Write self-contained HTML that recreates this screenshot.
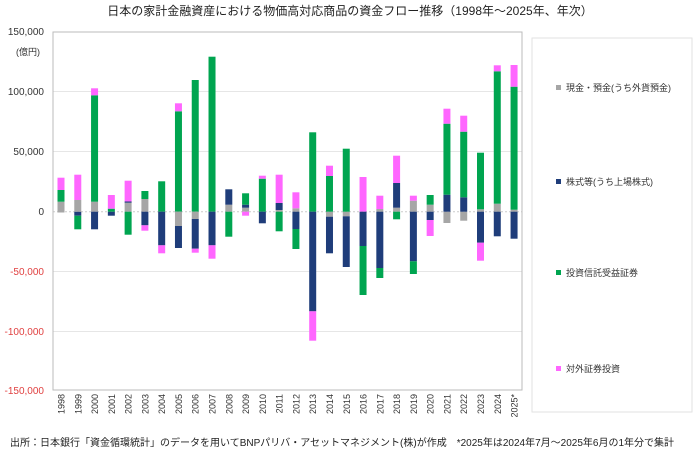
<!DOCTYPE html>
<html><head><meta charset="utf-8"><style>
body{margin:0;background:#fff;width:700px;height:456px;overflow:hidden;font-family:"Liberation Sans","Noto Sans CJK JP",sans-serif;}
</style></head><body>
<svg id="s" width="700" height="456" xmlns="http://www.w3.org/2000/svg" font-family="Liberation Sans, Noto Sans CJK JP, sans-serif">
<rect width="700" height="456" fill="#fff"/>
<text x="350" y="15" font-size="12" text-anchor="middle" fill="#222">日本の家計金融資産における物価高対応商品の資金フロー推移（1998年～2025年、年次）</text>
<g stroke="#e6e6e6" stroke-width="1">
<line x1="53" x2="522" y1="91.5" y2="91.5"/><line x1="53" x2="522" y1="151.5" y2="151.5"/>
<line x1="53" x2="522" y1="271.5" y2="271.5"/><line x1="53" x2="522" y1="331.5" y2="331.5"/>
</g>
<line x1="53" x2="522" y1="211.7" y2="211.7" stroke="#ccc" stroke-dasharray="2,2"/>
<rect x="53" y="32" width="469" height="358" fill="none" stroke="#bbb"/>
<g font-size="10" text-anchor="end" fill="#333">
<text x="44" y="35">150,000</text><text x="40" y="55" font-size="9">(億円)</text>
<text x="44" y="95">100,000</text><text x="44" y="155">50,000</text><text x="44" y="215">0</text>
<g fill="#e04040"><text x="44" y="275">-50,000</text><text x="44" y="335">-100,000</text><text x="44" y="394">-150,000</text></g>
</g>
<g id="bars"></g>
<g id="xl" font-size="9" fill="#333"></g>
<rect x="532" y="38" width="160" height="374" fill="#fff" stroke="#e2e2e2"/>
<g font-size="9" fill="#333">
<rect x="556" y="85" width="5" height="5" fill="#a6a6a6"/><text x="566" y="91">現金・預金(うち外貨預金)</text>
<rect x="556" y="179" width="5" height="5" fill="#1f3d7a"/><text x="566" y="185">株式等(うち上場株式)</text>
<rect x="556" y="270" width="5" height="5" fill="#00a550"/><text x="566" y="276">投資信託受益証券</text>
<rect x="556" y="366" width="5" height="5" fill="#ff66ff"/><text x="566" y="372">対外証券投資</text>
</g>
<text x="10" y="446" font-size="10" fill="#222">出所：日本銀行「資金循環統計」のデータを用いてBNPパリバ・アセットマネジメント(株)が作成　*2025年は2024年7月～2025年6月の1年分で集計</text>
</svg>
<script>
var G='#a6a6a6',N='#1f3d7a',E='#00a550',P='#ff66ff',Z=211.7;
var d=[
[[G,212.5,201.7],[E,201.7,190],[P,190,177.7]],
[[N,Z,215.7],[E,215.7,229.3],[G,Z,200],[P,200,174.7]],
[[G,Z,201.7],[E,201.7,95.3],[P,95.3,88.3],[N,Z,229.3]],
[[N,Z,215.7],[E,Z,208.7],[P,208.7,195]],
[[G,Z,202.7],[N,202.7,201.5],[P,201.5,180.7],[E,Z,234.7]],
[[G,Z,199],[E,199,191],[N,Z,225.3],[P,225.3,230.7]],
[[E,Z,181.3],[N,Z,245.3],[P,245.3,253.3]],
[[E,Z,111.3],[P,111.3,103.3],[G,Z,226],[N,226,248]],
[[E,Z,80],[G,Z,219],[N,219,248.7],[P,248.7,252.7]],
[[E,Z,56.7],[N,Z,245.3],[P,245.3,258.7]],
[[G,Z,204.7],[N,204.7,189.3],[E,Z,236.7]],
[[G,Z,207.7],[N,207.7,204.7],[E,204.7,193.3],[P,Z,215.7]],
[[E,Z,178.7],[P,178.7,175.7],[N,Z,223.3]],
[[G,Z,210],[N,210,203],[P,203,174.7],[E,Z,231.3]],
[[G,Z,208.3],[P,208.3,192.3],[N,Z,229],[E,229,249]],
[[E,Z,132.3],[N,Z,311.3],[P,311.3,340.7]],
[[G,Z,216.7],[N,216.7,253.3],[E,Z,176],[P,176,165.7]],
[[G,Z,216.3],[N,216.3,267],[E,Z,148.7]],
[[P,Z,177],[N,Z,246],[E,246,295]],
[[G,Z,209],[P,209,195.7],[N,Z,268],[E,268,278]],
[[G,Z,207.7],[N,207.7,183],[P,183,155.7],[E,Z,219.3]],
[[G,Z,200.7],[P,200.7,195.7],[N,Z,261.3],[E,261.3,274]],
[[G,Z,204.7],[E,204.7,195],[N,Z,220],[P,220,236]],
[[G,Z,223],[N,Z,194.7],[E,194.7,123.7],[P,123.7,108.7]],
[[G,Z,220.7],[N,Z,197.3],[E,197.3,131.7],[P,131.7,115.7]],
[[G,Z,209.3],[E,209.3,152.7],[N,Z,242.7],[P,242.7,260.7]],
[[G,Z,203.7],[E,203.7,71.3],[P,71.3,65.3],[N,Z,236.3]],
[[G,Z,209.7],[E,209.7,86.7],[P,86.7,65],[N,Z,238.7]]];
var ns='http://www.w3.org/2000/svg',b=document.getElementById('bars'),xl=document.getElementById('xl');
d.forEach(function(segs,i){var cx=61+16.78*i;
segs.forEach(function(s){var r=document.createElementNS(ns,'rect');var y1=Math.min(s[1],s[2]),h=Math.abs(s[2]-s[1]);
r.setAttribute('x',cx-3.5);r.setAttribute('y',y1);r.setAttribute('width',7);r.setAttribute('height',h);r.setAttribute('fill',s[0]);b.appendChild(r);});
var t=document.createElementNS(ns,'text');var lab=(1998+i)+(i==27?'*':'');t.textContent=lab;
t.setAttribute('transform','translate('+(cx+3.5)+',394) rotate(-90)');t.setAttribute('text-anchor','end');xl.appendChild(t);});
</script>
</body></html>
